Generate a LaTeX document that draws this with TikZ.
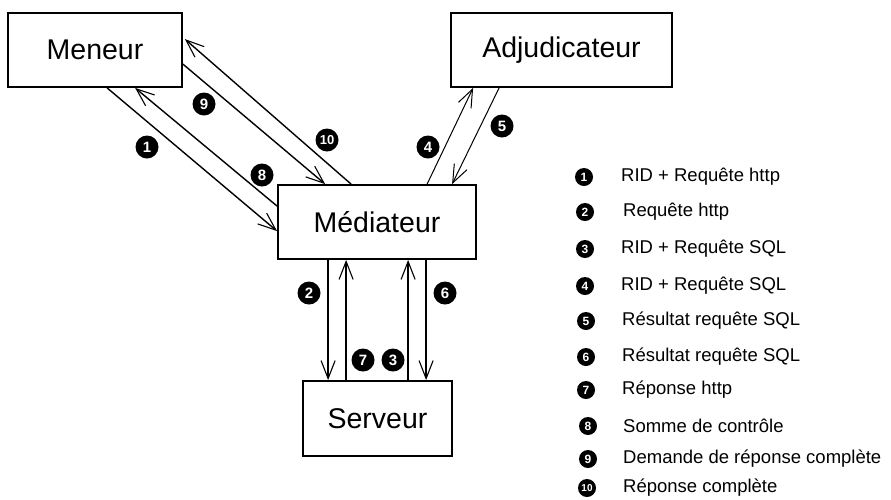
\documentclass[tikz,border=0pt]{standalone}
\usepackage{fontspec}
\setmainfont{Liberation Sans}
\usetikzlibrary{arrows.meta,calc}
\begin{document}
\begin{tikzpicture}[x=1pt,y=-1pt,
  box/.style={draw,line width=1.8pt,inner sep=0pt,font=\fontsize{28.5}{30}\selectfont},
  conn/.style={line width=1.4pt,-{Straight Barb[length=18pt,width=14pt,line width=1.1pt]}},
  thinconn/.style={line width=1pt,-{Straight Barb[length=18pt,width=14pt,line width=1pt]}},
  num/.style={circle,fill=black,text=white,inner sep=0pt,minimum size=23pt,font=\fontsize{15}{15}\selectfont\bfseries},
  lnum/.style={circle,fill=black,text=white,inner sep=0pt,minimum size=18pt,font=\fontsize{12}{12}\selectfont\bfseries},
  ltext/.style={anchor=west,inner sep=0pt,font=\fontsize{18.5}{20}\selectfont}]
\useasboundingbox (0,0) rectangle (891,499);
% boxes
\node[box,minimum width=174pt,minimum height=74pt] (men) at (95,50) {Meneur};
\node[box,minimum width=221pt,minimum height=74pt] (adj) at (561.5,50) {Adjudicateur};
\node[box,minimum width=198pt,minimum height=74pt] (med) at (377,222) {Médiateur};
\node[box,minimum width=149pt,minimum height=75pt] (ser) at (377.5,418.5) {Serveur};
% connectors
\draw[conn] ($(men.south west)+(100,0)$) -- ($(med.north west)+(0,47)$);
\draw[conn] ($(med.north west)+(0,22)$) -- ($(men.south west)+(128,0)$);
\draw[conn] ($(men.north east)+(0,52)$) -- ($(med.north west)+(48,0)$);
\draw[conn] ($(med.north west)+(74,0)$) -- ($(men.north east)+(2,27)$);
\draw[thinconn] ($(med.north west)+(150,0)$) -- ($(adj.south west)+(23,0)$);
\draw[thinconn] ($(adj.south west)+(49,0)$) -- ($(med.north west)+(175,0)$);
\draw[conn] ($(med.south west)+(51,0)$) -- ($(ser.north west)+(26,0)$);
\draw[conn] ($(ser.north west)+(44,0)$) -- ($(med.south west)+(69,0)$);
\draw[conn] ($(ser.north west)+(106,0)$) -- ($(med.south west)+(131,0)$);
\draw[conn] ($(med.south west)+(149,0)$) -- ($(ser.north west)+(124,0)$);
% step numbers
\node[num] (n1) at (147,147) {1};
\node[num] (n9) at (204,104) {9};
\node[num,font=\fontsize{13}{13}\selectfont\bfseries] (n10) at (327,140) {10};
\node[num] (n8) at (262,175) {8};
\node[num] (n4) at (428,147) {4};
\node[num] (n5) at (502,126) {5};
\node[num] (n2) at (309,293) {2};
\node[num] (n6) at (445,293) {6};
\node[num] (n7) at (363,360) {7};
\node[num] (n3) at (393,360) {3};
% legend
\node[lnum] (l1) at (584,177) {1};
\node[ltext] (t1) at (621,177) {RID + Requête http};
\node[lnum] (l2) at (585,212) {2};
\node[ltext] (t2) at (623,212) {Requête http};
\node[lnum] (l3) at (585,249) {3};
\node[ltext] (t3) at (621,249) {RID + Requête SQL};
\node[lnum] (l4) at (585,286) {4};
\node[ltext] (t4) at (621,286) {RID + Requête SQL};
\node[lnum] (l5) at (586,321) {5};
\node[ltext] (t5) at (622,321) {Résultat requête SQL};
\node[lnum] (l6) at (586,357) {6};
\node[ltext] (t6) at (622,357) {Résultat requête SQL};
\node[lnum] (l7) at (586,390) {7};
\node[ltext] (t7) at (622,390) {Réponse http};
\node[lnum] (l8) at (588,426) {8};
\node[ltext] (t8) at (623,426) {Somme de contrôle};
\node[lnum] (l9) at (588,459) {9};
\node[ltext] (t9) at (623,459) {Demande de réponse complète};
\node[lnum,font=\fontsize{10}{10}\selectfont\bfseries] (l10) at (587,488) {10};
\node[ltext] (t10) at (623,488) {Réponse complète};
\end{tikzpicture}
\end{document}
